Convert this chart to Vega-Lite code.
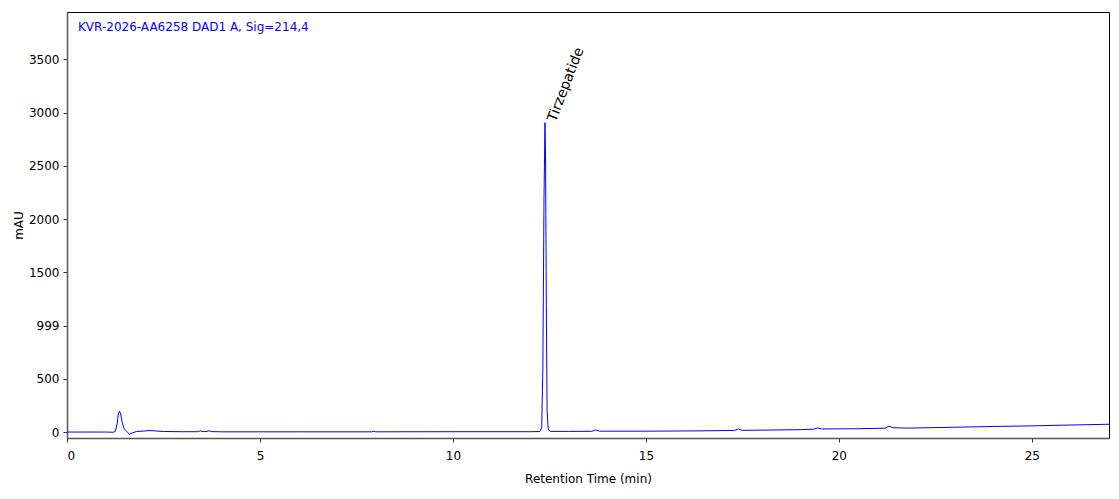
{
  "$schema": "https://vega.github.io/schema/vega-lite/v6.json",
  "width": 1042,
  "height": 426,
  "autosize": {"type": "none"},
  "padding": {"left": 67, "top": 12, "right": 10, "bottom": 61},
  "background": "white",
  "config": {
    "font": "DejaVu Sans",
    "view": {"stroke": "#000000", "strokeWidth": 1},
    "axis": {"labelFont": "DejaVu Sans", "titleFont": "DejaVu Sans", "labelFontSize": 12, "titleFontSize": 12, "titleFontWeight": "normal", "labelColor": "#000", "titleColor": "#000", "domainColor": "#555", "domainWidth": 1.5, "tickColor": "#333", "tickSize": 4, "grid": false}
  },
  "title": {"text": "KVR-2026-AA6258 DAD1 A, Sig=214,4", "anchor": "start", "frame": "group", "orient": "top", "offset": -22, "dx": 11, "color": "#0000ff", "fontSize": 12, "fontWeight": "normal", "font": "DejaVu Sans"},
  "layer": [
    {
      "data": {"values": [
        {"t": 0, "v": 0}, {"t": 0.5, "v": 0}, {"t": 1.0, "v": 0}, {"t": 1.2, "v": -2},
        {"t": 1.25, "v": 5}, {"t": 1.3, "v": 80}, {"t": 1.33, "v": 170}, {"t": 1.36, "v": 197},
        {"t": 1.39, "v": 170}, {"t": 1.43, "v": 90}, {"t": 1.48, "v": 30}, {"t": 1.55, "v": 5},
        {"t": 1.62, "v": -20}, {"t": 1.68, "v": -10}, {"t": 1.8, "v": 5}, {"t": 2.0, "v": 10},
        {"t": 2.15, "v": 14}, {"t": 2.3, "v": 10}, {"t": 2.5, "v": 5}, {"t": 3.0, "v": 3},
        {"t": 3.4, "v": 3}, {"t": 3.45, "v": 12}, {"t": 3.5, "v": 5}, {"t": 3.6, "v": 4},
        {"t": 3.68, "v": 12}, {"t": 3.75, "v": 4}, {"t": 4.0, "v": 2}, {"t": 6.0, "v": 2},
        {"t": 7.9, "v": 2}, {"t": 7.95, "v": 8}, {"t": 8.0, "v": 2}, {"t": 10.0, "v": 3},
        {"t": 12.0, "v": 3}, {"t": 12.25, "v": 5}, {"t": 12.3, "v": 40}, {"t": 12.33, "v": 600},
        {"t": 12.36, "v": 2200}, {"t": 12.385, "v": 2905}, {"t": 12.4, "v": 2600}, {"t": 12.42, "v": 1200},
        {"t": 12.44, "v": 200}, {"t": 12.47, "v": 20}, {"t": 12.53, "v": 6}, {"t": 13.0, "v": 6},
        {"t": 13.6, "v": 7}, {"t": 13.7, "v": 20}, {"t": 13.8, "v": 8}, {"t": 15.0, "v": 8},
        {"t": 16.4, "v": 11}, {"t": 17.3, "v": 15}, {"t": 17.4, "v": 28}, {"t": 17.5, "v": 16},
        {"t": 19.0, "v": 22}, {"t": 19.35, "v": 27}, {"t": 19.45, "v": 38}, {"t": 19.55, "v": 29},
        {"t": 20.5, "v": 31}, {"t": 21.2, "v": 36}, {"t": 21.3, "v": 56}, {"t": 21.4, "v": 40},
        {"t": 21.8, "v": 37}, {"t": 23.0, "v": 45}, {"t": 24.0, "v": 52}, {"t": 25.0, "v": 58},
        {"t": 26.0, "v": 66}, {"t": 27.0, "v": 73}
      ]},
      "mark": {"type": "line", "color": "#0000ff", "strokeWidth": 1, "clip": true},
      "encoding": {
        "x": {"field": "t", "type": "quantitative", "title": "Retention Time (min)",
              "scale": {"domain": [0, 27], "nice": false, "zero": false},
              "axis": {"values": [0, 5, 10, 15, 20, 25], "labelPadding": 8, "titlePadding": 12, "format": "d"}},
        "y": {"field": "v", "type": "quantitative", "title": "mAU",
              "scale": {"domain": [-56, 3944], "nice": false, "zero": false},
              "axis": {"values": [0, 500, 1000, 1500, 2000, 2500, 3000, 3500], "format": "d", "labelExpr": "datum.value == 1000 ? '999' : datum.label", "labelPadding": 4, "titlePadding": 3}}
      }
    },
    {
      "data": {"values": [{"t": 12.385, "v": 2905, "name": "Tirzepatide"}]},
      "mark": {"type": "text", "angle": -69, "align": "left", "baseline": "top", "fontSize": 14, "font": "DejaVu Sans", "color": "#000", "dx": 4, "dy": -1},
      "encoding": {
        "x": {"field": "t", "type": "quantitative"},
        "y": {"field": "v", "type": "quantitative"},
        "text": {"field": "name"}
      }
    }
  ]
}
